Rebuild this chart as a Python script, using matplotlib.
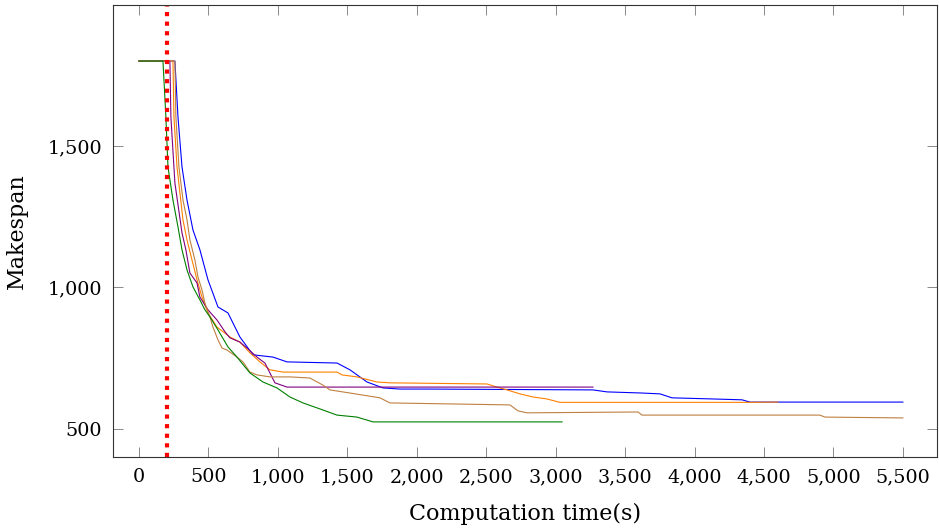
import matplotlib.pyplot as plt
from matplotlib.ticker import FuncFormatter

# Convergence curves (computation time in s, makespan)
blue_t = [0, 259, 281, 310, 346, 389, 439, 497, 569, 641, 727, 821, 965, 1066, 1426, 1519,
          1642, 1757, 1879, 2095, 3269, 3370, 3622, 3751, 3838, 4133, 4342, 4399, 5500]
blue_m = [1800, 1800, 1603, 1426, 1309, 1203, 1133, 1027, 931, 910, 825, 762, 754, 737, 733, 709,
          666, 645, 641, 641, 638, 631, 627, 624, 610, 606, 603, 595, 595]

orange_t = [0, 245, 252, 274, 317, 346, 382, 418, 454, 497, 562, 655, 727, 799, 871, 943, 1037,
            1426, 1462, 1570, 1714, 1807, 2506, 2578, 2650, 2743, 2837, 2938, 3031, 4399, 4600]
orange_m = [1800, 1800, 1603, 1426, 1239, 1168, 1097, 1027, 966, 910, 860, 825, 807, 769, 737, 709, 701,
            701, 691, 684, 666, 663, 659, 648, 638, 624, 613, 606, 594, 594, 595]

purple_t = [0, 223, 230, 259, 310, 338, 367, 418, 439, 497, 562, 620, 655, 727, 778, 850, 907,
            943, 979, 1066, 3269]
purple_m = [1800, 1800, 1603, 1369, 1193, 1133, 1051, 1016, 966, 921, 885, 843, 822, 807, 786, 754, 733,
            698, 663, 648, 648]

brown_t = [0, 259, 266, 288, 317, 346, 367, 403, 425, 454, 475, 511, 533, 569, 598, 634, 706, 749,
           799, 850, 943, 1087, 1231, 1325, 1375, 1519, 1735, 1807, 2671, 2729, 2794, 3593, 3622,
           4903, 4939, 5500]
brown_m = [1800, 1800, 1603, 1426, 1309, 1239, 1168, 1097, 1037, 991, 945, 896, 860, 815, 786, 779, 754, 737,
           701, 691, 684, 684, 680, 655, 638, 627, 610, 592, 585, 564, 557, 560, 549,
           549, 542, 539]

green_t = [0, 173, 194, 209, 245, 281, 310, 346, 389, 439, 475, 511, 569, 641, 706, 799, 893, 994,
           1087, 1181, 1325, 1426, 1570, 1685, 3046]
green_m = [1800, 1800, 1603, 1426, 1309, 1214, 1133, 1062, 1002, 956, 921, 896, 850, 790, 754, 698, 666, 645,
           613, 592, 567, 549, 542, 525, 525]

cutoff = 200

xticks = list(range(0, 5501, 500))
yticks = [500, 1000, 1500]

plt.rcParams['font.family'] = 'DejaVu Serif'

fig = plt.figure(figsize=(9.39, 5.32), dpi=100)
ax = fig.add_axes([0.1203, 0.141, 0.8776, 0.8496])

ax.plot(blue_t, blue_m, color='#0000ff', lw=0.8)
ax.plot(orange_t, orange_m, color='#ff8000', lw=0.8)
ax.plot(purple_t, purple_m, color='#800080', lw=0.8)
ax.plot(brown_t, brown_m, color='#bf8040', lw=0.8)
ax.plot(green_t, green_m, color='#008000', lw=0.8)
ax.axvline(cutoff, color='red', lw=3, linestyle=(0, (1, 1.3)))

ax.set_xlim(-187, 5746)
ax.set_ylim(401, 1998)
ax.set_xticks(xticks)
ax.set_yticks(yticks)
ax.xaxis.set_major_formatter(FuncFormatter(lambda v, p: f'{int(v):,}'))
ax.yaxis.set_major_formatter(FuncFormatter(lambda v, p: f'{int(v):,}'))
ax.tick_params(direction='in', length=7, width=0.6, color='#777777', labelsize=13.8,
               top=True, right=True, pad=8)
for s in ax.spines.values():
    s.set_color('#333333')
    s.set_linewidth(0.8)

ax.set_xlabel('Computation time(s)', fontsize=16, labelpad=12)
ax.set_ylabel('Makespan', fontsize=16, labelpad=14)

fig.savefig('out.png', dpi=100)
